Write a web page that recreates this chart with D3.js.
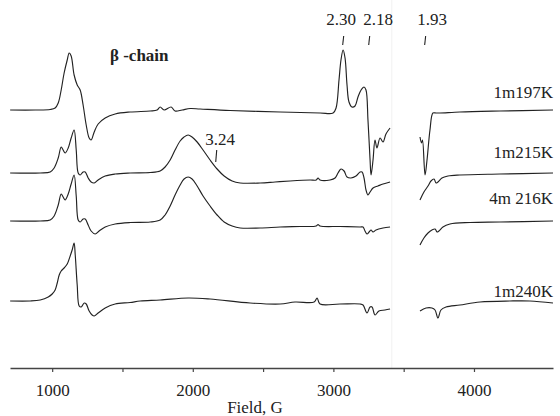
<!DOCTYPE html>
<html><head><meta charset="utf-8">
<script src="https://cdn.jsdelivr.net/npm/d3@7"></script>
<style>
html,body{margin:0;padding:0;background:#fff;}
svg text{font-family:"Liberation Serif","Times New Roman",serif;fill:#222;}
</style></head>
<body><svg id="chart" width="560" height="416"></svg>
<script>
// ---------- data ----------
const fieldDomain = [700, 4562];
const xTicks = [1000, 1500, 2000, 2500, 3000, 3500, 4000];
const xTickLabels = ["1000", "", "2000", "", "3000", "", "4000"];
const xTitle = "Field, G";
const chartTitle = "β -chain";
const seriesNames = ["1m197K", "1m215K", "4m 216K", "1m240K"];
const seriesOffsets = [258, 195, 147, 67];
const gapField = 3412;

const field197 = [701,879,986,1021,1043,1064,1085,1107,1121,1135,1156,1178,1199,1220,1242,1263,1277,1299,1327,1377,1448,1554,1697,1746,1768,1796,1846,1874,1924,1981,2052,2265,2621,2905,2998,3019,3040,3054,3069,3083,3097,3111,3132,3154,3175,3197,3218,3232,3246,3261,3268,3282,3296,3310,3332,3353,3374,3403,null,3616,3627,3634,3652,3666,3687,3708,3730,3758,3900,4185,4562];
const int197 = [0,0,0.5,2,7,20,37,50,57,54,35,25,20,5,-15,-28,-30,-22,-14,-8,-4,-2,-1,0,3,0,3,-1,0,1.5,1,-0.5,-2,-3,-3,2,30,50,60,52,25,8,3,4,13,20,23,20,-10,-50,-65,-50,-30,-38,-28,-32,-24,-18,null,-27,-33,-30,-65,-50,-20,-3,-3,-3,-2,-1,0];

const field215 = [701,915,986,1014,1043,1064,1078,1092,1114,1135,1156,1171,1185,1199,1220,1235,1256,1277,1299,1327,1377,1448,1554,1697,1768,1803,1839,1874,1910,1938,1967,1995,2031,2073,2123,2173,2223,2280,2337,2479,2585,2692,2834,2877,2891,2905,2976,3012,3033,3054,3076,3097,3125,3161,3190,3204,3218,3232,3246,3261,3282,3317,3353,3403,null,3616,3644,3673,3694,3716,3730,3744,3772,3815,3900,4185,4562];
const int215 = [0,0,1,5,15,26,23,20,25,35,43,23,0,-2,1,1,-5,-9,-10,-7,-3,-1,0,0.5,2,6,13,23,32,36,38,36,31,23,13,4,-3,-8,-10,-10,-9,-8,-7,-7,-5,-7,-7,-5,0,4,2,-4,-5,-3,1,1,-5,-17,-22,-19,-15,-13,-11,-9,null,-27,-19,-13,-8,-6,-10,-9,-5,-3,-2,-1,0];

const field216 = [701,915,986,1014,1043,1064,1078,1092,1114,1135,1156,1171,1185,1199,1220,1235,1256,1277,1306,1334,1377,1448,1554,1697,1768,1803,1839,1874,1910,1938,1967,1995,2031,2073,2123,2173,2223,2280,2337,2479,2621,2763,2877,2891,2905,3047,3190,3211,3225,3239,3254,3268,3282,3303,3353,3403,null,3616,3644,3673,3701,3723,3737,3751,3779,3829,3972,4185,4562];
const int216 = [0,0,1,5,16,27,24,21,27,37,46,25,1,-1,2,2,-4,-10,-13,-10,-6,-3,-1.5,-1,1,6,15,26,36,42,44,42,35,25,15,6,-1,-5,-7,-7,-6,-5.5,-5,-3.5,-5,-5.5,-6,-6,-10,-13,-11,-9,-11,-9,-7,-6,null,-24,-17,-12,-9,-8,-11,-10,-6,-3,-1.5,-1,0];

const field240 = [701,844,915,972,1000,1021,1036,1050,1064,1085,1107,1128,1142,1156,1164,1178,1192,1206,1228,1242,1263,1284,1299,1327,1377,1448,1554,1626,1768,1967,2123,2408,2621,2727,2863,2884,2905,3047,3190,3211,3239,3261,3275,3296,3324,3367,3403,null,3616,3659,3701,3723,3744,3765,3801,3900,4043,4256,4398,4562];
const int240 = [0,0,1,4,7,11,18,26,30,33,37,45,51,58,46,16,-5,-6,-2,-3,-10,-14,-15,-12,-7,-3,-1.5,0,1,3,2,-2,-3,-1,-1,3,-3,-3,-3,-4,-12,-6,-6,-14,-10,-9,-8,null,-10,-7,-7,-9,-17,-9,-6,-4,-1,0,0,-2];

const annoLabels = ["2.30", "2.18", "1.93", "3.24"];
const annoFields = [3069, 3254, 3652, 2166];

// ---------- layout ----------
const axisY = 368;
const svg = d3.select("#chart");
const x = d3.scaleLinear().domain(fieldDomain).range([10, 553]);
const y = d3.scaleLinear().domain([0, 368]).range([368, 0]);

// faint separator at the gap
svg.append("line")
  .attr("x1", x(gapField) + 0.5).attr("x2", x(gapField) + 0.5)
  .attr("y1", 0).attr("y2", axisY)
  .attr("stroke", "#f1f1f1").attr("stroke-width", 1);

const series = [
  {name: seriesNames[0], off: seriesOffsets[0], f: field197, v: int197, labelY: 98},
  {name: seriesNames[1], off: seriesOffsets[1], f: field215, v: int215, labelY: 158},
  {name: seriesNames[2], off: seriesOffsets[2], f: field216, v: int216, labelY: 204},
  {name: seriesNames[3], off: seriesOffsets[3], f: field240, v: int240, labelY: 297}
];

const line = d3.line()
  .defined(d => d !== null)
  .x(d => x(d[0]))
  .y(d => y(d[1]))
  .curve(d3.curveCatmullRom.alpha(0.5));

series.forEach(s => {
  const pts = s.f.map((f, i) => f === null ? null : [f, s.off + s.v[i]]);
  svg.append("path")
    .attr("d", line(pts))
    .attr("fill", "none")
    .attr("stroke", "#222")
    .attr("stroke-width", 1.15)
    .attr("stroke-linejoin", "round");
  svg.append("text")
    .attr("x", 553).attr("y", s.labelY)
    .attr("text-anchor", "end")
    .attr("font-size", 17)
    .text(s.name);
});

// axis
const axis = d3.axisBottom(x).tickValues(xTicks)
  .tickFormat((d, i) => xTickLabels[i]).tickSize(4).tickSizeOuter(0);
const gAx = svg.append("g").attr("transform", `translate(0,${axisY})`).call(axis);
gAx.select(".domain").attr("stroke", "#444").attr("stroke-width", 1.5);
gAx.selectAll(".tick line").attr("stroke", "#444").attr("stroke-width", 1.2);
gAx.selectAll(".tick text")
  .attr("font-size", 17).attr("fill", "#222").attr("dy", "1.25em");

svg.append("text").attr("x", 255).attr("y", 413)
  .attr("text-anchor", "middle").attr("font-size", 17).text(xTitle);

svg.append("text").attr("x", 110).attr("y", 61)
  .attr("font-size", 17).attr("font-weight", "bold").text(chartTitle);

// annotations (g-values)
const annoLayout = [
  {dx: -2, ty: 25, t1: 36, t2: 45},
  {dx: 9, ty: 25, t1: 36, t2: 45},
  {dx: 7, ty: 25, t1: 36, t2: 45},
  {dx: 4, ty: 145, t1: 150, t2: 162}
];
annoLabels.forEach((lab, i) => {
  const L = annoLayout[i];
  const ax = x(annoFields[i]);
  svg.append("text").attr("x", ax + L.dx).attr("y", L.ty)
    .attr("text-anchor", "middle").attr("font-size", 17).text(lab);
  svg.append("line")
    .attr("x1", ax + 0.6).attr("y1", L.t1)
    .attr("x2", ax - 0.4).attr("y2", L.t2)
    .attr("stroke", "#222").attr("stroke-width", 1.1);
});
</script></body></html>
